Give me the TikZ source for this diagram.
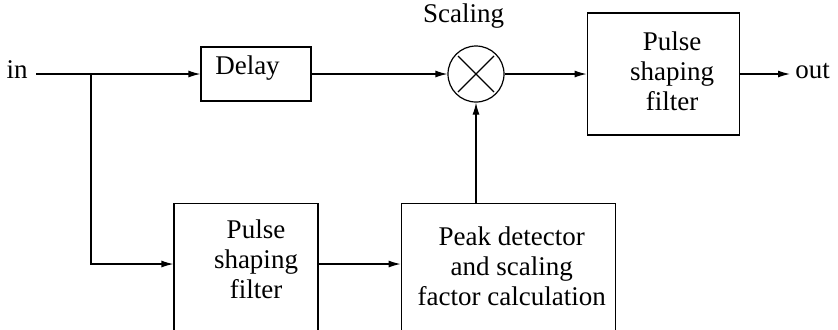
\documentclass[tikz,border=0pt]{standalone}
\usepackage{fontspec}
\setmainfont{Liberation Serif}
\usepackage{tikz}
\usetikzlibrary{arrows.meta, positioning, calc}
\tikzset{
  block/.style={rectangle, draw=black, line width=0.6pt, inner sep=0pt},
  mixer/.style={circle, draw=black, line width=0.6pt, minimum size=28pt, inner sep=0pt,
    path picture={
      \draw[line width=0.6pt] ($(path picture bounding box.center)+(-9pt,9pt)$) -- ($(path picture bounding box.center)+(9pt,-9pt)$);
      \draw[line width=0.6pt] ($(path picture bounding box.center)+(-9pt,-9pt)$) -- ($(path picture bounding box.center)+(9pt,9pt)$);
    }},
  arrow/.style={-{Latex[length=6pt,width=3.5pt]}, line width=0.6pt},
  line/.style={line width=0.6pt}
}

\begin{document}
\begin{tikzpicture}[x=0.5pt, y=-0.5pt, font=\fontsize{13.5}{15}\selectfont]
  \clip (0,0) rectangle (838,329);

  % Nodes
  \node[anchor=mid east, inner xsep=4pt] (in) at (36,74) {in};
  \coordinate (split) at (91,74);
  \node[block, minimum width=55pt, minimum height=27pt,
    label={[xshift=-4.25pt, yshift=3pt]center:Delay}] (delay) at (256,74) {};
  \node[mixer, label={[xshift=-6.25pt, yshift=5pt]above:Scaling}] (mix) at (476,74) {};
  \node[block, minimum width=76pt, minimum height=61pt, right=41pt of mix,
    label={[align=center, xshift=4.5pt, yshift=1.5pt]center:{Pulse\\shaping\\filter}}] (psf1) {};
  \node[anchor=mid west, inner xsep=2.5pt] (out) at (790,74) {out};
  \node[block, minimum width=72pt, minimum height=71pt, anchor=north,
    label={[align=center, xshift=5pt, yshift=7.5pt]center:{Pulse\\shaping\\filter}}] (psf2) at (246,203) {};
  \node[block, minimum width=107pt, minimum height=71pt, right=41pt of psf2,
    label={[align=center, xshift=1.75pt, yshift=4pt]center:{Peak detector\\and scaling\\factor calculation}}] (peak) {};

  % Arrows
  \draw[arrow] (in.mid east) -- (delay.west);
  \draw[arrow] (delay) -- (mix);
  \draw[arrow] (mix) -- (psf1);
  \draw[arrow] (psf1) -- (out.mid west);
  \draw[arrow] (split) |- ([yshift=-30.5pt]psf2.north west);
  \draw[arrow] ([yshift=-30.5pt]psf2.north east) -- ([yshift=-30.5pt]peak.north west);
  \draw[arrow] (peak.north -| mix.south) -- (mix.south);
\end{tikzpicture}
\end{document}
